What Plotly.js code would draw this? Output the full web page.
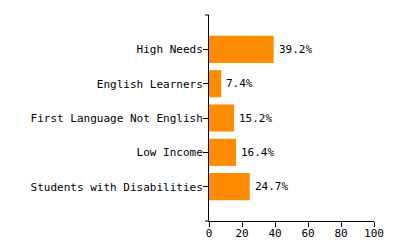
<!DOCTYPE html>
<html><head><meta charset="utf-8">
<script src="https://cdn.plot.ly/plotly-3.0.1.min.js"></script>
<style>html,body{margin:0;padding:0;background:#fff}#c{width:400px;height:250px}</style>
</head><body><div id="c"></div>
<script>
const categories = ["Students with Disabilities","Low Income","First Language Not English","English Learners","High Needs"];
const values = [24.7, 16.4, 15.2, 7.4, 39.2];
const xTicks = [0, 20, 40, 60, 80, 100];

const font = {family: "DejaVu Sans Mono, monospace", size: 11, color: "#000"};
Plotly.newPlot("c", [{
  type: "bar", orientation: "h",
  x: values, y: categories,
  marker: {color: "#FF8C00"},
  width: 0.79, hoverinfo: "none"
}], {
  width: 400, height: 250,
  margin: {l: 209, r: 26, t: 15, b: 29, pad: 0},
  paper_bgcolor: "#fff", plot_bgcolor: "#fff",
  font: font, showlegend: false,
  xaxis: {range: [0, 100], tickvals: xTicks, ticktext: xTicks.map(String),
    showgrid: false, zeroline: false, showline: true, linecolor: "#000", linewidth: 1,
    ticks: "outside", ticklen: 5, tickcolor: "#000", tickfont: font, ticklabelstandoff: -3, fixedrange: true},
  yaxis: {type: "category", categoryorder: "array", categoryarray: categories,
    range: [-1, 5], showgrid: false, zeroline: false, showline: true, linecolor: "#000", linewidth: 1,
    ticks: "outside", ticklen: 5, tickcolor: "#000", tickfont: font, ticklabelstandoff: -2, fixedrange: true},
  annotations: values.map((v, i) => ({
    x: v, y: categories[i], xref: "x", yref: "y", text: v.toFixed(1) + "%",
    showarrow: false, xanchor: "left", yanchor: "middle", xshift: 3, font: font
  })),
  shapes: [
    {type: "line", xref: "paper", yref: "paper", x0: 0, x1: -0.024, y0: 1, y1: 1, line: {color: "#000", width: 1}},
    {type: "line", xref: "paper", yref: "paper", x0: 0, x1: -0.024, y0: 0, y1: 0, line: {color: "#000", width: 1}}
  ]
}, {staticPlot: true});
</script></body></html>
